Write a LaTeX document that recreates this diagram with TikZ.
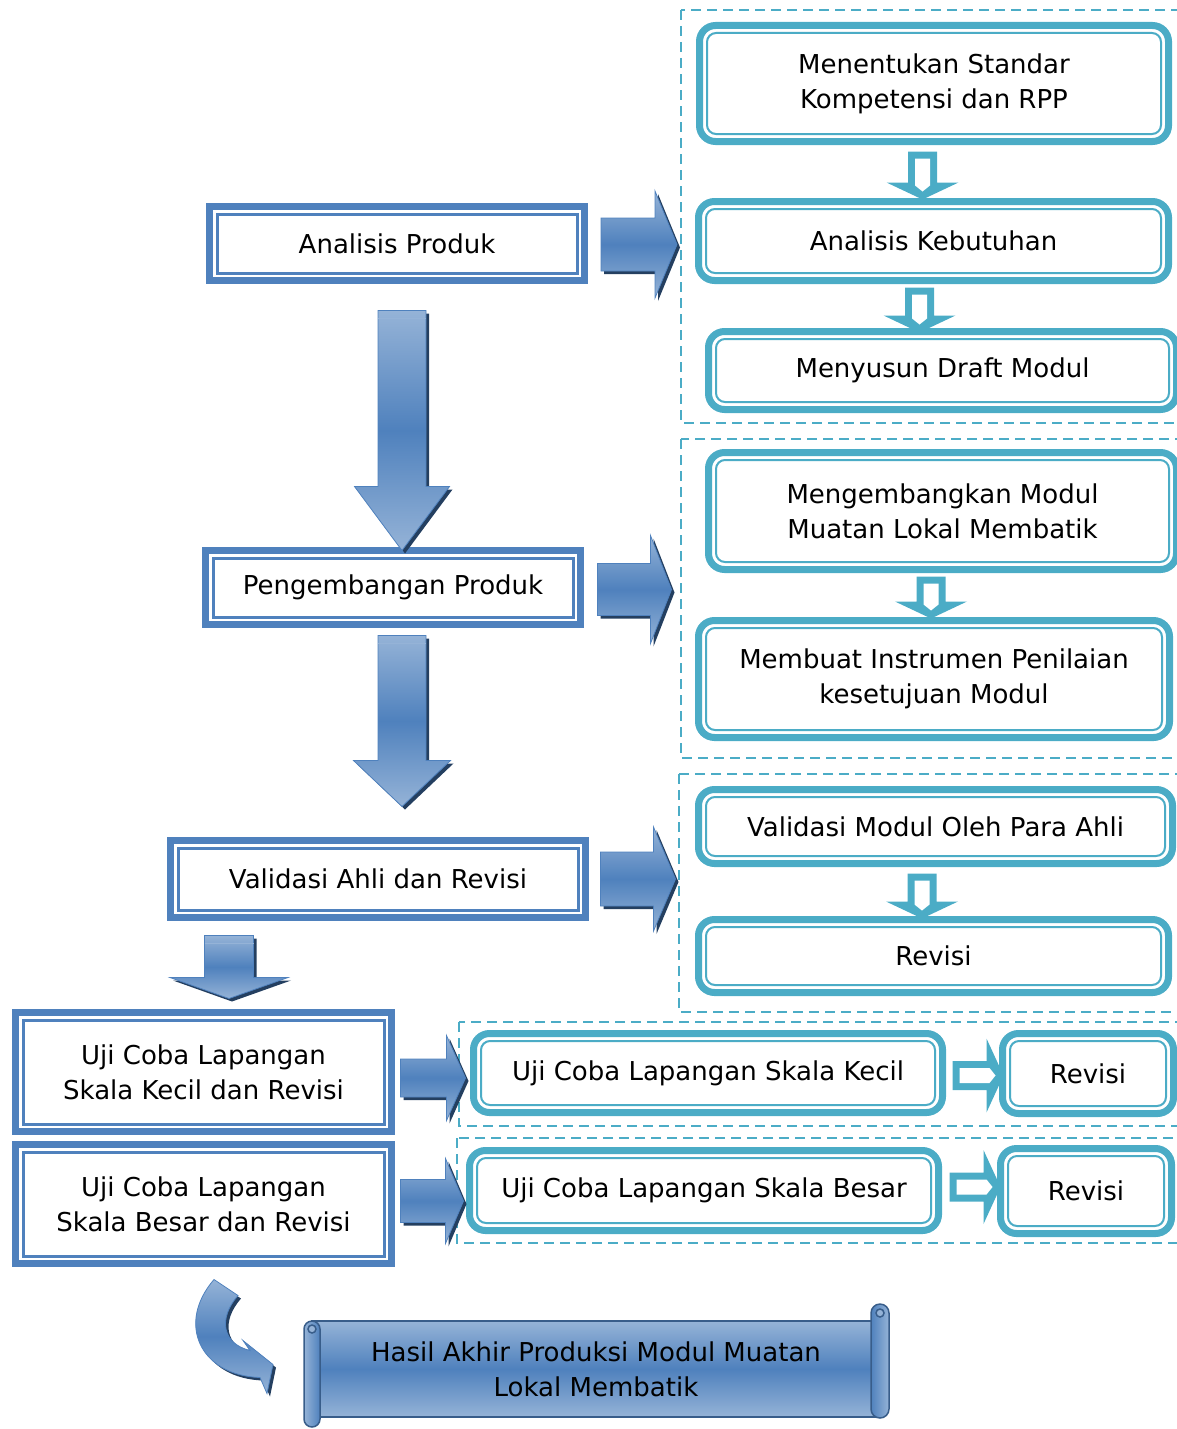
\documentclass[tikz,border=0pt]{standalone}
\usepackage{fontspec}
\setmainfont{DejaVu Sans}
\usetikzlibrary{calc}

\definecolor{boxblue}{HTML}{4F81BD}
\definecolor{tealc}{HTML}{4BACC6}
\definecolor{arrowlight}{HTML}{95B3D7}
\definecolor{arrowdark}{HTML}{243F60}
\definecolor{scrolledge}{HTML}{385D8A}

\tikzset{
  bluebox/.style={draw=boxblue, line width=7pt, fill=white, inner sep=0pt, align=center,
    path picture={\draw[boxblue, line width=3pt]
      ([shift={(7.5pt,-7.5pt)}]path picture bounding box.north west) rectangle
      ([shift={(-7.5pt,7.5pt)}]path picture bounding box.south east);}},
  tealbox/.style={draw=tealc, line width=7pt, fill=white, rounded corners=16pt, inner sep=0pt, align=center,
    path picture={\draw[tealc, line width=2pt, rounded corners=9pt]
      ([shift={(7.5pt,-7.5pt)}]path picture bounding box.north west) rectangle
      ([shift={(-7.5pt,7.5pt)}]path picture bounding box.south east);}},
  groupbox/.style={draw=tealc, line width=2.5pt, dash pattern=on 10pt off 6pt},
  arrowbody/.style={top color=arrowlight, bottom color=arrowlight, middle color=boxblue, draw=boxblue, line width=0.8pt},
  arrowshade/.style={fill=arrowdark},
  scrollbody/.style={draw=scrolledge, line width=1.5pt}
}

\newcommand{\arrowright}[5]{%
  \fill[arrowshade, shift={#1}, xshift=3pt, yshift=-3pt]
    (0,-#3) -- ({#2-#5},-#3) -- ({#2-#5},-#4) -- (#2,0) -- ({#2-#5},#4) -- ({#2-#5},#3) -- (0,#3) -- cycle;
  \shade[arrowbody, shift={#1}]
    (0,-#3) -- ({#2-#5},-#3) -- ({#2-#5},-#4) -- (#2,0) -- ({#2-#5},#4) -- ({#2-#5},#3) -- (0,#3) -- cycle;}

\newcommand{\arrowdown}[5]{%
  \fill[arrowshade, shift={#1}, xshift=3pt, yshift=-3pt]
    (-#3,0) -- (-#3,{#2-#5}) -- (-#4,{#2-#5}) -- (0,#2) -- (#4,{#2-#5}) -- (#3,{#2-#5}) -- (#3,0) -- cycle;
  \shade[arrowbody, shift={#1}]
    (-#3,0) -- (-#3,{#2-#5}) -- (-#4,{#2-#5}) -- (0,#2) -- (#4,{#2-#5}) -- (#3,{#2-#5}) -- (#3,0) -- cycle;
  \draw[arrowlight, line width=1.5pt, shift={#1}] (-#3,8) -- (#3,8);}

\newcommand{\hollowdown}[2]{%
  \fill[tealc, shift={#1}]
    (-14.5,0) -- (-14.5,{#2-17}) -- (-36,{#2-17}) -- (0,#2) -- (36,{#2-17}) -- (14.5,{#2-17}) -- (14.5,0) -- cycle;
  \fill[white, shift={#1}]
    (-7.5,7) -- (-7.5,{#2-14}) -- (0,{#2-8}) -- (7.5,{#2-14}) -- (7.5,7) -- cycle;}

\newcommand{\hollowright}[2]{%
  \fill[tealc, shift={#1}]
    (0,-14.5) -- ({#2-17},-14.5) -- ({#2-17},-37) -- (#2,0) -- ({#2-17},37) -- ({#2-17},14.5) -- (0,14.5) -- cycle;
  \fill[white, shift={#1}]
    (7,-7.5) -- ({#2-14},-7.5) -- ({#2-8},0) -- ({#2-14},7.5) -- (7,7.5) -- cycle;}

\begin{document}
\begin{tikzpicture}[x=1pt, y=-1pt, font=\fontsize{26}{35}\selectfont]
    \useasboundingbox (0,0) rectangle (1176,1429);

    \begin{scope}
        \draw [groupbox] (681,10) rectangle (1190,423);
        \draw [groupbox] (681,439) rectangle (1190,758);
        \draw [groupbox] (679,774) rectangle (1190,1012);
        \draw [groupbox] (459,1022) rectangle (1190,1126);
        \draw [groupbox] (457,1138) rectangle (1190,1243);
    \end{scope}

    \node [bluebox, minimum width=375pt, minimum height=74pt] (analisis) at (397,243.5) {Analisis Produk};
    \node [bluebox, minimum width=375pt, minimum height=74pt] (pengembangan) at (393,587.5) {Pengembangan Produk};
    \node [bluebox, minimum width=415pt, minimum height=77pt] (validasi) at (378,879) {Validasi Ahli dan Revisi};
    \node [bluebox, minimum width=376pt, minimum height=119pt] (ujikecil) at (203.5,1072) {Uji Coba Lapangan\\Skala Kecil dan Revisi};
    \node [bluebox, minimum width=376pt, minimum height=119pt] (ujibesar) at (203.5,1204) {Uji Coba Lapangan\\Skala Besar dan Revisi};

    \node [tealbox, minimum width=469pt, minimum height=116pt] (standar) at (934,83.5) {Menentukan Standar\\Kompetensi dan RPP};
    \node [tealbox, minimum width=470pt, minimum height=79pt] (kebutuhan) at (933.5,241) {Analisis Kebutuhan};
    \node [tealbox, minimum width=468pt, minimum height=78pt] (draft) at (942.5,370.5) {Menyusun Draft Modul};
    \node [tealbox, minimum width=468pt, minimum height=117pt] (mengembangkan) at (942.5,511) {Mengembangkan Modul\\Muatan Lokal Membatik};
    \node [tealbox, minimum width=471pt, minimum height=117pt] (instrumen) at (934,679) {Membuat Instrumen Penilaian\\kesetujuan Modul};
    \node [tealbox, minimum width=474pt, minimum height=74pt] (validasimodul) at (935.5,826.5) {Validasi Modul Oleh Para Ahli};
    \node [tealbox, minimum width=470pt, minimum height=73pt] (revisia) at (933.5,956) {Revisi};
    \node [tealbox, minimum width=469pt, minimum height=79pt] (skalakecil) at (708,1073) {Uji Coba Lapangan Skala Kecil};
    \node [tealbox, minimum width=171pt, minimum height=80pt] (revisib) at (1088,1073.5) {Revisi};
    \node [tealbox, minimum width=469pt, minimum height=80pt] (skalabesar) at (704,1190.5) {Uji Coba Lapangan Skala Besar};
    \node [tealbox, minimum width=171pt, minimum height=85pt] (revisic) at (1086,1191) {Revisi};

    \arrowright{($(analisis.east)+(13,1)$)}{76}{26.5}{53.5}{22}
    \arrowright{($(pengembangan.east)+(13.5,2)$)}{74}{26}{54}{21}
    \arrowright{($(validasi.east)+(11.5,0)$)}{75}{27}{52}{22}
    \arrowright{($(ujikecil.east)+(5.5,6)$)}{65}{19}{42.5}{19}
    \arrowright{($(ujibesar.east)+(5.5,-3)$)}{63}{21.5}{42.5}{18}

    \arrowdown{($(analisis.south)+(5,26.5)$)}{240}{24}{47.5}{64}
    \arrowdown{($(pengembangan.south)+(9,7.5)$)}{171}{24}{48.5}{46}
    \arrowdown{($(validasi.south west)+(62,14.5)$)}{63}{24.5}{59}{21}

    \hollowdown{($(standar.south)+(-11.5,6.5)$)}{48}
    \hollowdown{($(kebutuhan.south)+(-14,3.5)$)}{45}
    \hollowdown{($(mengembangkan.south)+(-11.5,3.5)$)}{42}
    \hollowdown{($(validasimodul.south)+(-13.5,6.5)$)}{45}
    \hollowright{($(skalakecil.east)+(6.5,2.5)$)}{51}
    \hollowright{($(skalabesar.east)+(7.5,-3.5)$)}{51}

    \begin{scope}
        \shade [scrollbody, top color=arrowlight, bottom color=arrowlight, middle color=boxblue] (312,1321) rectangle (880,1417);
        \shade [scrollbody, left color=arrowlight, right color=boxblue] (304,1419) -- (304,1329) arc[start angle=180, end angle=360, radius=8] -- (320,1419) arc[start angle=0, end angle=180, radius=8] -- cycle;
        \shade [scrollbody, left color=boxblue, right color=arrowlight] (871,1409) -- (871,1313) arc[start angle=180, end angle=360, radius=9] -- (889,1409) arc[start angle=0, end angle=180, radius=9] -- cycle;
        \draw [scrollbody, fill=arrowlight] (312,1329) circle[radius=4];
        \draw [scrollbody, fill=arrowlight] (880,1313) circle[radius=4];
    \end{scope}
    \node [align=center] (hasil) at (596,1369) {Hasil Akhir Produksi Modul Muatan\\Lokal Membatik};

    \begin{scope}[shift={(ujibesar.south)}]
        \fill [arrowshade, xshift=3pt, yshift=-3pt] (10.5,12.5) -- (34.5,28.5) .. controls (14.5,51.5) and (18.5,76.5) .. (46.5,83.5) -- (39.5,73.5) -- (69.5,97.5) -- (63.5,126.5) -- (56.5,110.5) .. controls (-3.5,108.5) and (-27.5,56.5) .. (10.5,12.5) -- cycle;
        \shade [arrowbody] (10.5,12.5) -- (34.5,28.5) .. controls (14.5,51.5) and (18.5,76.5) .. (46.5,83.5) -- (39.5,73.5) -- (69.5,97.5) -- (63.5,126.5) -- (56.5,110.5) .. controls (-3.5,108.5) and (-27.5,56.5) .. (10.5,12.5) -- cycle;
    \end{scope}
\end{tikzpicture}
\end{document}
